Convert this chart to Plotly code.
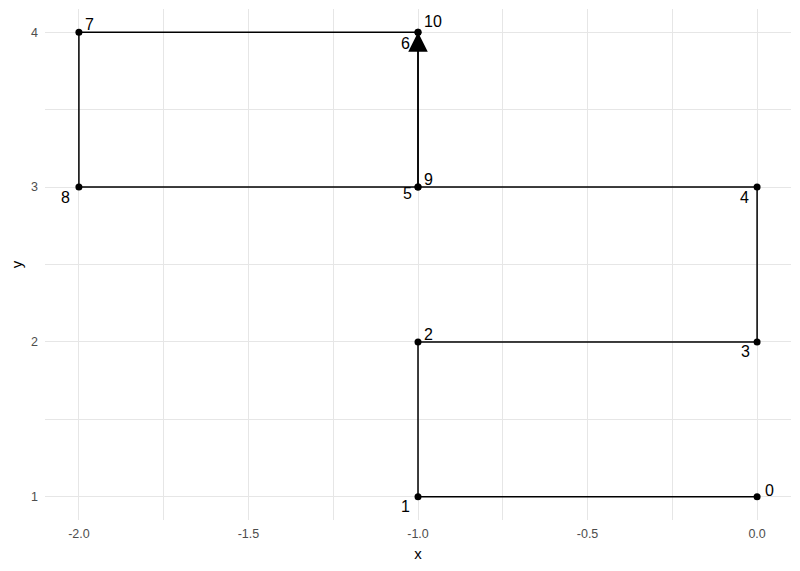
import plotly.graph_objects as go

# data
xs = [0, -1, -1, 0, 0, -1, -1, -2, -2, -1, -1]
ys = [1, 1, 2, 2, 3, 3, 4, 4, 3, 3, 4]
labels = [str(i) for i in range(len(xs))]
# label pixel offsets (dx, dy) – layout only
offsets = [(12, 6), (-13, -10), (10, 7), (-12, -10), (-13, -10), (-11, -6),
           (-13, -11), (11, 8), (-13, -10), (10, 8), (15, 11)]

x_ticks = [-2.0, -1.5, -1.0, -0.5, 0.0]
x_ticktext = ["-2.0", "-1.5", "-1.0", "-0.5", "0.0"]
y_ticks = [1, 2, 3, 4]

fig = go.Figure()
fig.add_trace(go.Scatter(x=xs, y=ys, mode="lines",
                         line=dict(color="black", width=1.5), hoverinfo="skip",
                         showlegend=False))
fig.add_trace(go.Scatter(x=xs, y=ys, mode="markers",
                         marker=dict(color="black", size=7), showlegend=False))

annotations = []
# arrow head on last segment
annotations.append(dict(x=xs[-1], y=ys[-1], ax=xs[-2], ay=ys[-2], xref="x", yref="y",
                        axref="x", ayref="y", text="", showarrow=True,
                        arrowhead=2, arrowsize=2.6, arrowwidth=1.5,
                        arrowcolor="black", standoff=0))
for x, y, t, (dx, dy) in zip(xs, ys, labels, offsets):
    annotations.append(dict(x=x, y=y, text=t, showarrow=False, xshift=dx, yshift=dy,
                            font=dict(size=16, color="black",
                                      family="Liberation Sans, Arial, sans-serif")))

grid = "#E6E6E6"
fig.update_layout(
    width=800, height=571,
    margin=dict(l=37, r=17, t=1, b=59),
    plot_bgcolor="white", paper_bgcolor="white",
    font=dict(family="Liberation Sans, Arial, sans-serif"),
    annotations=annotations,
    xaxis=dict(range=[-2.1, 0.1], tickvals=x_ticks, ticktext=x_ticktext,
               automargin=False,
               showgrid=True, gridcolor=grid, gridwidth=1.1,
               minor=dict(tickvals=[-1.75, -1.25, -0.75, -0.25], showgrid=True,
                          gridcolor=grid, gridwidth=0.55),
               zeroline=False, showline=False, ticks="",
               tickfont=dict(size=12.5, color="#4D4D4D"), ticklabelstandoff=4,
               title=dict(text="x", font=dict(size=15, color="black"), standoff=8)),
    yaxis=dict(range=[0.85, 4.15], tickvals=y_ticks,
               automargin=False,
               showgrid=True, gridcolor=grid, gridwidth=1.1,
               minor=dict(tickvals=[1.5, 2.5, 3.5], showgrid=True,
                          gridcolor=grid, gridwidth=0.55),
               zeroline=False, showline=False, ticks="",
               tickfont=dict(size=12.5, color="#4D4D4D"), ticklabelstandoff=6,
               title=dict(text="y", font=dict(size=15, color="black"), standoff=10)),
)

fig.write_html("out.html")
